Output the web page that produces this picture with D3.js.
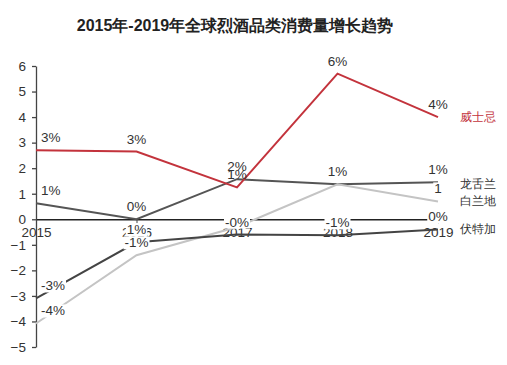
<!DOCTYPE html>
<html><head><meta charset="utf-8">
<script src="https://cdn.jsdelivr.net/npm/d3@7/dist/d3.min.js"></script>
<style>
body{margin:0;background:#fff;}
text{font-family:"Liberation Sans",Arial,sans-serif;}
</style></head>
<body><svg id="c" width="507" height="365"></svg>
<script>
const years = ["2015","2016","2017","2018","2019"];
const yTicks = [-5,-4,-3,-2,-1,0,1,2,3,4,5,6];
const seriesNames = ["威士忌","龙舌兰","白兰地","伏特加"];
const whisky  = [2.7, 2.65, 1.25, 5.7, 4.0];
const tequila = [0.63, 0.0, 1.57, 1.37, 1.45];
const brandy  = [-4.08, -1.41, -0.3, 1.37, 0.7];
const vodka   = [-3.1, -0.9, -0.6, -0.63, -0.4];
const whiskyLabels  = ["3%","3%","2%","6%","4%"];
const tequilaLabels = ["1%","0%","1%","1%","1%"];
const brandyLabels  = ["-4%","-1%","","1%","1"];
const vodkaLabels   = ["-3%","1%","-0%","-1%","0%"];
const title = "2015年-2019年全球烈酒品类消费量增长趋势";

const series = [
  {key:"t", name:seriesNames[1], values:tequila, labels:tequilaLabels, color:"#555555", nameColor:"#333", bg:false},
  {key:"b", name:seriesNames[2], values:brandy, labels:brandyLabels, color:"#c4c4c4", nameColor:"#333", bg:true},
  {key:"v", name:seriesNames[3], values:vodka, labels:vodkaLabels, color:"#444444", nameColor:"#333", bg:true},
  {key:"w", name:seriesNames[0], values:whisky, labels:whiskyLabels, color:"#c3333c", nameColor:"#c3333c", bg:false}
];
// label offset tweaks (layout only)
const labelDy = {"w2":-16, "t2":0};

const svg = d3.select("#c");
const x = d3.scalePoint().domain(years).range([36, 438]);
const y = d3.scaleLinear().domain([-5, 6]).range([347, 66]);

svg.append("text").attr("x", 235).attr("y", 31).attr("text-anchor","middle")
  .attr("font-size", 16).attr("font-weight","bold").attr("fill","#222").text(title);

const ya = svg.append("g").attr("transform","translate(36,0)")
  .call(d3.axisLeft(y).tickValues(yTicks).tickSize(4).tickSizeOuter(0).tickPadding(6).tickFormat(d3.format("d")));
ya.selectAll("path,line").attr("stroke","#444").attr("stroke-width",1.3);
ya.selectAll("text").attr("font-size",13.5).attr("fill","#333");

const xa = svg.append("g").attr("transform",`translate(0,${y(0)})`)
  .call(d3.axisBottom(x).tickSize(4).tickSizeOuter(0).tickPadding(4));
xa.select("path").attr("stroke","#222").attr("stroke-width",1.3);
xa.selectAll("line").attr("stroke","#444");
xa.selectAll("text").attr("font-size",13.5).attr("fill","#333");

const line = d3.line().x((d,i)=>x(years[i])).y(d=>y(d));
series.forEach(s=>{
  svg.append("path").datum(s.values).attr("d",line).attr("fill","none")
    .attr("stroke",s.color).attr("stroke-width",2);
});

series.forEach(s=>{
  s.values.forEach((v,i)=>{
    const t = s.labels[i];
    if(!t) return;
    const g = svg.append("g");
    const first = i===0;
    const dy = labelDy[s.key+i] !== undefined ? labelDy[s.key+i] : -8;
    const tx = g.append("text")
      .attr("x", first ? x(years[i])+5 : x(years[i]))
      .attr("y", y(v)+dy)
      .attr("text-anchor", first ? "start" : "middle")
      .attr("font-size",13.5).attr("fill","#333").text(t);
    if(s.bg){
      const b = tx.node().getBBox();
      g.insert("rect","text").attr("x",b.x-1).attr("y",b.y+1).attr("width",b.width+2).attr("height",b.height-2).attr("fill","#fff");
    }
  });
});

const namePos = {"威士忌":4.0,"龙舌兰":1.4,"白兰地":0.7,"伏特加":-0.4};
series.forEach(s=>{
  svg.append("text").attr("x",460).attr("y",y(namePos[s.name])+4)
    .attr("font-size",12).attr("fill",s.nameColor).text(s.name);
});
</script></body></html>
